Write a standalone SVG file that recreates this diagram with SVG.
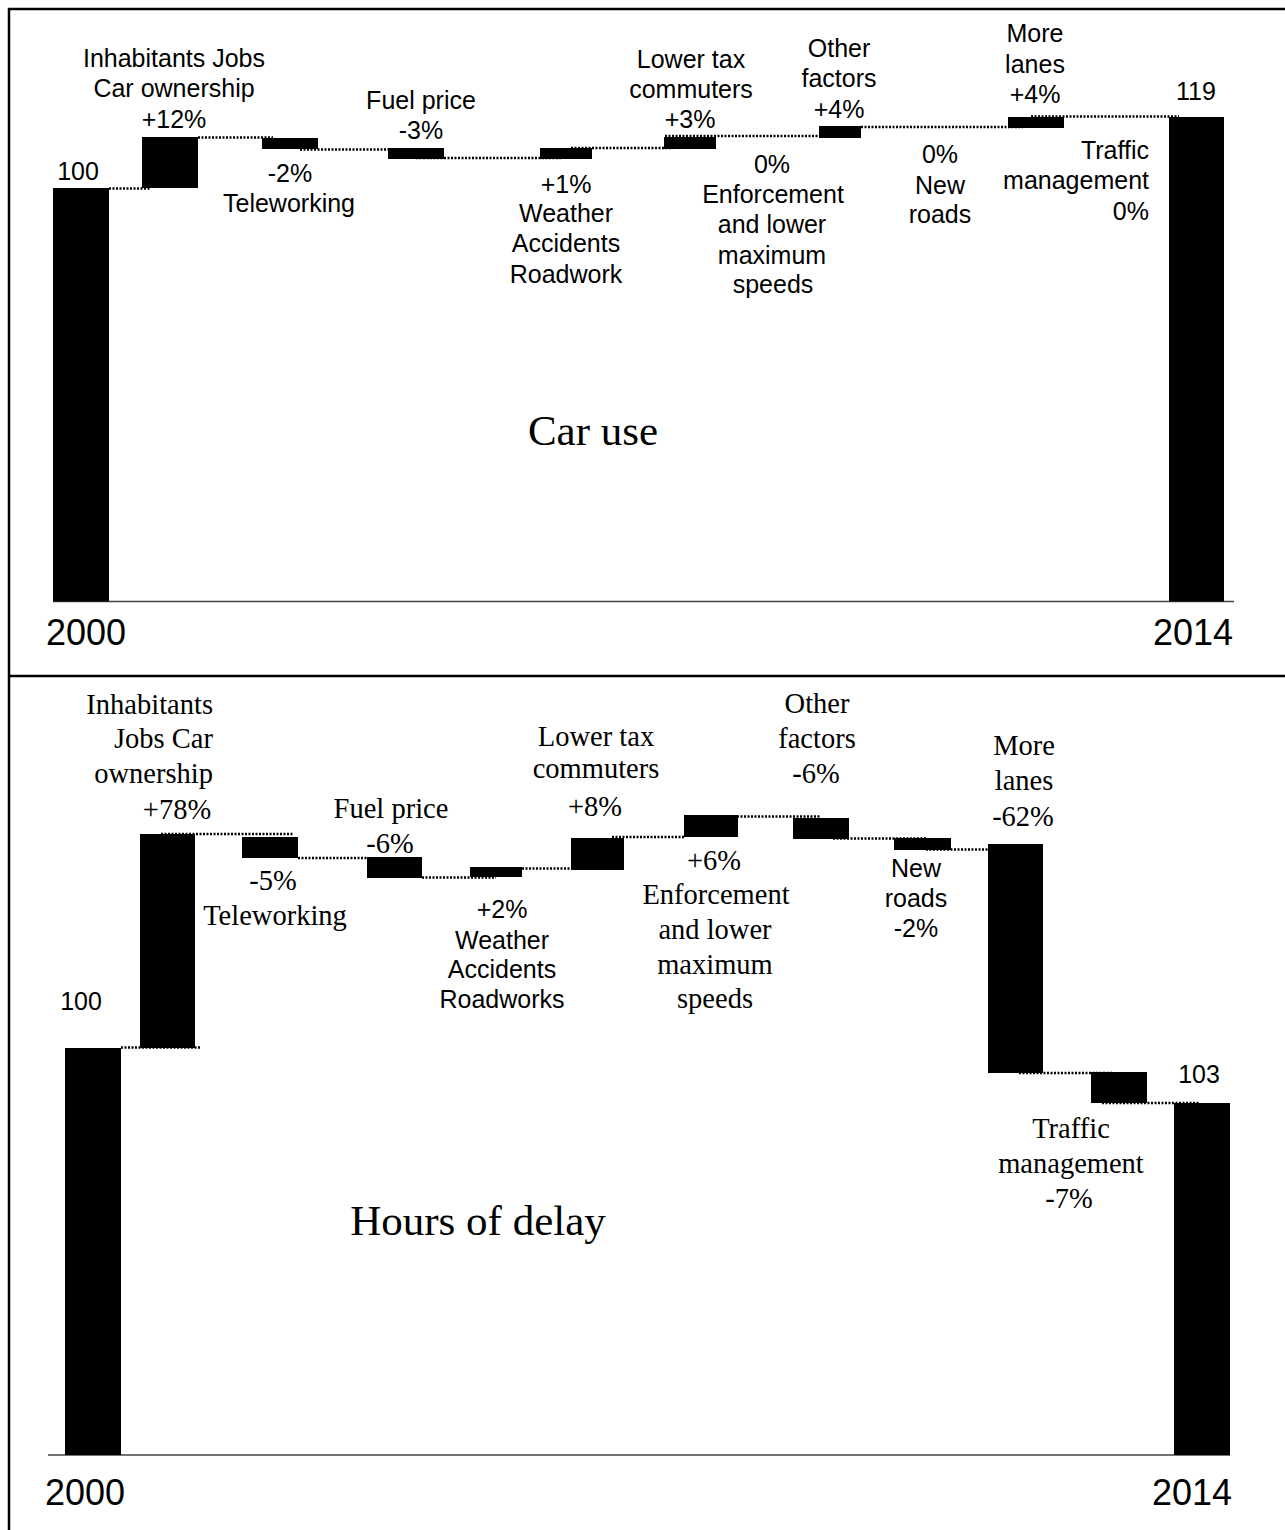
<svg xmlns="http://www.w3.org/2000/svg" width="1285" height="1530" viewBox="0 0 1285 1530">
<style>
.bar{fill:#000}
.s{font-family:"Liberation Sans",Arial,sans-serif;font-size:25px;fill:#000}
.r{font-family:"Liberation Serif","Times New Roman",serif;font-size:28.5px;fill:#000}
.yr{font-family:"Liberation Sans",Arial,sans-serif;font-size:36px;fill:#000}
.ttl{font-family:"Liberation Serif","Times New Roman",serif;font-size:43px;fill:#000;text-anchor:middle}
.c{text-anchor:middle}
.e{text-anchor:end}
.dot{fill:none;stroke:#000;stroke-width:2.5;stroke-dasharray:2 1.5}
.axis{stroke:#444;stroke-width:1.5}
.frame{stroke:#000;stroke-width:2.5;fill:none}
</style>
<rect x="0" y="0" width="1285" height="1530" fill="#fff"/>
<g id="frame">
<path class="frame" d="M9 1530 V9 H1285"/>
<path class="frame" d="M9 676 H1285"/>
<line class="axis" x1="53" y1="601.5" x2="1234" y2="601.5"/>
<line class="axis" x1="48" y1="1455" x2="1230" y2="1455"/>
</g>
<!-- Top chart: Car use -->
<g id="t-2000">
<rect class="bar" x="53" y="188" width="56" height="413.5"/>
<text class="s c" x="78" y="180">100</text>
<text class="yr" x="46" y="645">2000</text>
</g>
<g id="t-population">
<rect class="bar" x="142" y="137" width="56" height="51"/>
<text class="s c"><tspan x="174" y="67">Inhabitants Jobs</tspan><tspan x="174" y="97">Car ownership</tspan><tspan x="174" y="128">+12%</tspan></text>
</g>
<g id="t-teleworking">
<rect class="bar" x="262" y="138" width="56" height="11"/>
<text class="s c"><tspan x="290" y="182">-2%</tspan><tspan x="289" y="212">Teleworking</tspan></text>
</g>
<g id="t-fuel">
<rect class="bar" x="388" y="148" width="56" height="11"/>
<text class="s c"><tspan x="421" y="109">Fuel price</tspan><tspan x="421" y="139">-3%</tspan></text>
</g>
<g id="t-weather">
<rect class="bar" x="540" y="148" width="52" height="11"/>
<text class="s c"><tspan x="566" y="193">+1%</tspan><tspan x="566" y="222">Weather</tspan><tspan x="566" y="252">Accidents</tspan><tspan x="566" y="283">Roadwork</tspan></text>
</g>
<g id="t-tax">
<rect class="bar" x="664" y="137" width="52" height="12"/>
<text class="s c"><tspan x="691" y="68">Lower tax</tspan><tspan x="691" y="98">commuters</tspan><tspan x="690" y="128">+3%</tspan></text>
</g>
<g id="t-enforcement">
<text class="s c"><tspan x="772" y="173">0%</tspan><tspan x="773" y="203">Enforcement</tspan><tspan x="772" y="233">and lower</tspan><tspan x="772" y="264">maximum</tspan><tspan x="773" y="293">speeds</tspan></text>
</g>
<g id="t-other">
<rect class="bar" x="819" y="126" width="42" height="12"/>
<text class="s c"><tspan x="839" y="57">Other</tspan><tspan x="839" y="87">factors</tspan><tspan x="839" y="118">+4%</tspan></text>
</g>
<g id="t-newroads">
<text class="s c"><tspan x="940" y="163">0%</tspan><tspan x="940" y="194">New</tspan><tspan x="940" y="223">roads</tspan></text>
</g>
<g id="t-lanes">
<rect class="bar" x="1008" y="117" width="56" height="11"/>
<text class="s c"><tspan x="1035" y="42">More</tspan><tspan x="1035" y="73">lanes</tspan><tspan x="1035" y="103">+4%</tspan></text>
</g>
<g id="t-traffic">
<text class="s e"><tspan x="1149" y="159">Traffic</tspan><tspan x="1149" y="189">management</tspan><tspan x="1149" y="220">0%</tspan></text>
</g>
<g id="t-2014">
<rect class="bar" x="1169" y="117" width="55" height="484.5"/>
<text class="s c" x="1196" y="100">119</text>
<text class="yr e" x="1233" y="645">2014</text>
</g>
<text class="ttl" x="593" y="445">Car use</text>
<!-- Bottom chart: Hours of delay -->
<g id="b-2000">
<rect class="bar" x="65" y="1048" width="56" height="407"/>
<text class="s c" x="81" y="1010">100</text>
<text class="yr" x="45" y="1505">2000</text>
</g>
<g id="b-population">
<rect class="bar" x="140" y="834" width="55" height="214"/>
<text class="r e"><tspan x="213" y="714">Inhabitants</tspan><tspan x="213" y="748">Jobs Car</tspan><tspan x="213" y="783">ownership</tspan></text>
<text class="r c" x="177" y="819">+78%</text>
</g>
<g id="b-teleworking">
<rect class="bar" x="242" y="837" width="56" height="21"/>
<text class="r c"><tspan x="273" y="890">-5%</tspan><tspan x="275" y="925">Teleworking</tspan></text>
</g>
<g id="b-fuel">
<rect class="bar" x="367" y="857" width="55" height="21"/>
<text class="r c"><tspan x="391" y="818">Fuel price</tspan><tspan x="390" y="853">-6%</tspan></text>
</g>
<g id="b-weather">
<rect class="bar" x="470" y="867" width="52" height="10"/>
<text class="s c"><tspan x="502" y="918">+2%</tspan><tspan x="502" y="949">Weather</tspan><tspan x="502" y="978">Accidents</tspan><tspan x="502" y="1008">Roadworks</tspan></text>
</g>
<g id="b-tax">
<rect class="bar" x="571" y="838" width="53" height="32"/>
<text class="r c"><tspan x="596" y="746">Lower tax</tspan><tspan x="596" y="778">commuters</tspan><tspan x="595" y="816">+8%</tspan></text>
</g>
<g id="b-enforcement">
<rect class="bar" x="684" y="815" width="54" height="22"/>
<text class="r c"><tspan x="714" y="870">+6%</tspan><tspan x="716" y="904">Enforcement</tspan><tspan x="715" y="939">and lower</tspan><tspan x="715" y="974">maximum</tspan><tspan x="715" y="1008">speeds</tspan></text>
</g>
<g id="b-other">
<rect class="bar" x="793" y="818" width="56" height="21"/>
<text class="r c"><tspan x="817" y="713">Other</tspan><tspan x="817" y="748">factors</tspan><tspan x="816" y="783">-6%</tspan></text>
</g>
<g id="b-newroads">
<rect class="bar" x="894" y="838" width="57" height="12"/>
<text class="s c"><tspan x="916" y="877">New</tspan><tspan x="916" y="907">roads</tspan><tspan x="916" y="937">-2%</tspan></text>
</g>
<g id="b-lanes">
<rect class="bar" x="988" y="844" width="55" height="229"/>
<text class="r c"><tspan x="1024" y="755">More</tspan><tspan x="1024" y="790">lanes</tspan><tspan x="1023" y="826">-62%</tspan></text>
</g>
<g id="b-traffic">
<rect class="bar" x="1091" y="1072" width="56" height="31"/>
<text class="r c"><tspan x="1071" y="1138">Traffic</tspan><tspan x="1071" y="1173">management</tspan><tspan x="1069" y="1208">-7%</tspan></text>
</g>
<g id="b-2014">
<rect class="bar" x="1174" y="1103" width="56" height="352"/>
<text class="s c" x="1199" y="1083">103</text>
<text class="yr e" x="1232" y="1505">2014</text>
</g>
<text class="ttl" x="478" y="1235">Hours of delay</text>
<g id="connectors">
<path class="dot" d="M109 188.5 H151"/>
<path class="dot" d="M198 137.5 H273"/>
<path class="dot" d="M300 149.5 H388"/>
<path class="dot" d="M416 158 H561"/>
<path class="dot" d="M571 148 H673"/>
<path class="dot" d="M665 136 H819"/>
<path class="dot" d="M861 127 H1023"/>
<path class="dot" d="M1031 116.5 H1179"/>
<path class="dot" d="M121 1047.5 H200"/>
<path class="dot" d="M161 834 H294"/>
<path class="dot" d="M298 858 H367"/>
<path class="dot" d="M422 877.5 H496"/>
<path class="dot" d="M522 868.5 H600"/>
<path class="dot" d="M612 837 H684"/>
<path class="dot" d="M737 816.5 H821"/>
<path class="dot" d="M833 838.5 H926"/>
<path class="dot" d="M926 849.5 H988"/>
<path class="dot" d="M1019 1073 H1113"/>
<path class="dot" d="M1102 1103 H1200"/>
</g>
</svg>
